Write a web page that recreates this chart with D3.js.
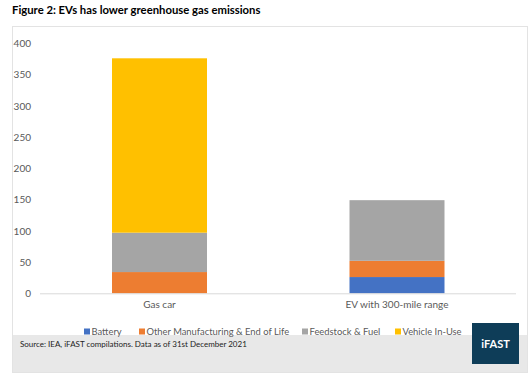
<!DOCTYPE html>
<html>
<head>
<meta charset="utf-8">
<script src="https://cdn.jsdelivr.net/npm/d3@7"></script>
<style>
  body { margin: 0; background: #fff; }
  text { font-family: Lato, "Open Sans", sans-serif; }
</style>
</head>
<body>
<div id="chart"></div>
<script>
// categories and stacked series
var categories = ["Gas car", "EV with 300-mile range"];
var seriesNames = ["Battery", "Other Manufacturing & End of Life", "Feedstock & Fuel", "Vehicle In-Use"];
var battery = [0, 26];
var otherMfg = [34, 26];
var feedstock = [63, 97];
var inUse = [279, 0];
var yTicks = [0, 50, 100, 150, 200, 250, 300, 350, 400];

var colors = ["#4472C4", "#ED7D31", "#A5A5A5", "#FFC000"];
var legendX = [84, 139, 302, 395];

var W = 531, H = 375;
var svg = d3.select("#chart").append("svg")
    .attr("width", W)
    .attr("height", H);

// title
svg.append("text")
    .attr("x", 12).attr("y", 14)
    .attr("font-size", 11.3).attr("font-weight", "bold")
    .attr("fill", "#000")
    .text("Figure 2: EVs has lower greenhouse gas emissions");

// chart border
svg.append("rect")
    .attr("x", 12.5).attr("y", 26.5)
    .attr("width", 515).attr("height", 346)
    .attr("fill", "#fff").attr("stroke", "#e3e3e3");

// footer band
svg.append("rect")
    .attr("x", 13).attr("y", 335)
    .attr("width", 514).attr("height", 37)
    .attr("fill", "#e8e8e8");

var rows = categories.map(function (c, i) {
    return { cat: c, s0: battery[i], s1: otherMfg[i], s2: feedstock[i], s3: inUse[i] };
});
var stack = d3.stack().keys(["s0", "s1", "s2", "s3"])(rows);

var x = d3.scaleBand().domain(categories).range([40.75, 515.75]).paddingInner(0).paddingOuter(0);
var y = d3.scaleLinear().domain([0, 400]).range([293.3, 43.3]);
var barW = x.bandwidth() * 0.4;

svg.append("g").selectAll("g")
    .data(stack).enter().append("g")
    .attr("fill", function (d, i) { return colors[i]; })
  .selectAll("rect")
    .data(function (d) { return d; }).enter().append("rect")
    .attr("x", function (d) { return x(d.data.cat) + (x.bandwidth() - barW) / 2; })
    .attr("y", function (d) { return y(d[1]); })
    .attr("width", barW)
    .attr("height", function (d) { return y(d[0]) - y(d[1]); });

// baseline
svg.append("line")
    .attr("x1", 40).attr("x2", 516)
    .attr("y1", y(0) + 0.5).attr("y2", y(0) + 0.5)
    .attr("stroke", "#d9d9d9");

// y axis labels
var yAxis = d3.axisLeft(y).tickValues(yTicks).tickSize(0).tickPadding(0);
var gy = svg.append("g").attr("transform", "translate(31,0)").call(yAxis);
gy.select(".domain").remove();
gy.selectAll("text").attr("font-size", 10).attr("fill", "#595959")
    .attr("font-family", "Lato, 'Open Sans', sans-serif");

// x axis labels
var xAxis = d3.axisBottom(x).tickSize(0).tickPadding(0);
var gx = svg.append("g").attr("transform", "translate(0,301)").call(xAxis);
gx.select(".domain").remove();
gx.selectAll("text").attr("font-size", 10).attr("fill", "#595959")
    .attr("font-family", "Lato, 'Open Sans', sans-serif");

// legend
var leg = svg.append("g").selectAll("g")
    .data(seriesNames).enter().append("g")
    .attr("transform", function (d, i) { return "translate(" + legendX[i] + ",331.5)"; });
leg.append("rect")
    .attr("x", 0).attr("y", -3).attr("width", 6).attr("height", 6)
    .attr("fill", function (d, i) { return colors[i]; });
leg.append("text")
    .attr("x", 7.5).attr("y", 3.5)
    .attr("font-size", 9.4).attr("fill", "#595959")
    .text(function (d) { return d; });

// source
svg.append("text")
    .attr("x", 20).attr("y", 347)
    .attr("font-size", 8).attr("fill", "#222")
    .text("Source: IEA, iFAST compilations. Data as of 31st December 2021");

// logo
svg.append("rect")
    .attr("x", 472).attr("y", 323)
    .attr("width", 47).attr("height", 41)
    .attr("fill", "#0e3d58");
svg.append("text")
    .attr("x", 495.5).attr("y", 348)
    .attr("text-anchor", "middle")
    .attr("font-size", 11).attr("font-weight", "bold")
    .attr("font-family", "Roboto, 'Liberation Sans', sans-serif")
    .attr("fill", "#fff")
    .text("iFAST");
</script>
</body>
</html>
